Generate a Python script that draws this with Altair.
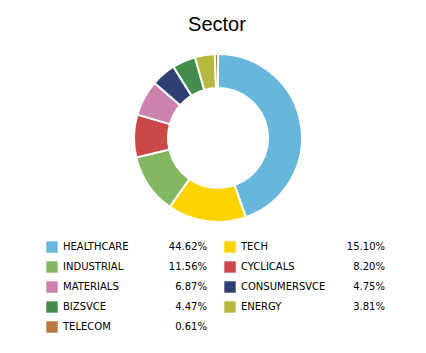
import altair as alt
import pandas as pd

sectors = ["HEALTHCARE", "TECH", "INDUSTRIAL", "CYCLICALS", "MATERIALS",
           "CONSUMERSVCE", "BIZSVCE", "ENERGY", "TELECOM"]
values = [44.62, 15.10, 11.56, 8.20, 6.87, 4.75, 4.47, 3.81, 0.61]
colors = ["#67b7dc", "#fdd400", "#84b761", "#cc4748", "#cd82ad",
          "#2f4074", "#448e4d", "#b7b83f", "#b9783f"]

df = pd.DataFrame({
    "sector": sectors,
    "value": values,
    "idx": list(range(len(sectors))),
})
df["col"] = df["idx"] % 2
df["row"] = df["idx"] // 2
df["label"] = [f"{v:.2f}%" for v in values]

color = alt.Color("sector:N", scale=alt.Scale(domain=sectors, range=colors), legend=None)
base = alt.Chart(df)

arc = base.mark_arc(innerRadius=50, outerRadius=84, stroke="white", strokeWidth=2).encode(
    theta=alt.Theta("value:Q", stack=True),
    order=alt.Order("idx:Q"),
    color=color,
    x=alt.value(218),
    y=alt.value(98),
)

xs = alt.X("col:Q", scale=alt.Scale(domain=[0, 1], range=[52, 230]), axis=None)
ys = alt.Y("row:Q", scale=alt.Scale(domain=[0, 4], range=[207, 287]), axis=None)

swatch = base.mark_point(shape="square", filled=True, size=130, opacity=1).encode(
    x=xs, y=ys, color=color
)
names = base.mark_text(align="left", baseline="middle", dx=11, font="DejaVu Sans",
                       fontSize=10, color="#000").encode(x=xs, y=ys, text="sector:N")
pcts = base.mark_text(align="right", baseline="middle", dx=155, font="DejaVu Sans",
                      fontSize=10, color="#000").encode(x=xs, y=ys, text="label:N")

chart = alt.layer(arc, swatch, names, pcts).properties(
    width=426, height=313,
    autosize=alt.AutoSizeParams(type="none"),
    padding={"left": 0, "top": 40, "right": 0, "bottom": 0},
    title=alt.TitleParams("Sector", font="Liberation Sans", fontSize=20,
                          fontWeight="normal", color="#000", anchor="middle",
                          offset=5, dx=4),
).configure_view(stroke=None)

chart.save("out.html", embed_options={"renderer": "svg", "actions": False})
